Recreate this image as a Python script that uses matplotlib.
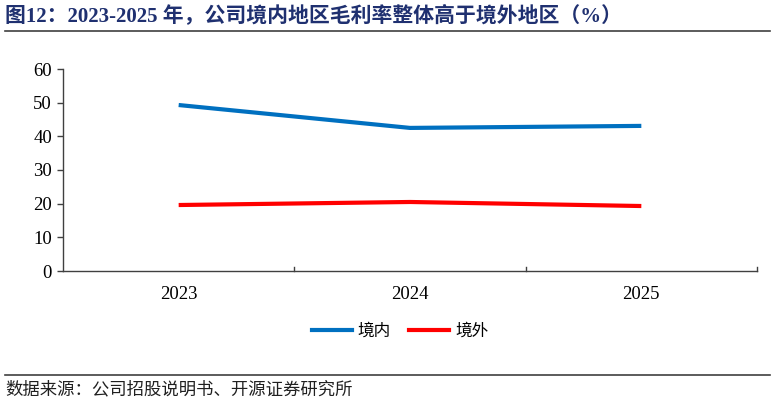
import matplotlib.pyplot as plt
from matplotlib.lines import Line2D

# data
years = ['2023', '2024', '2025']
domestic = [49.3, 42.5, 43.1]   # 境内
overseas = [19.6, 20.5, 19.3]   # 境外

title_text = '图12：2023-2025 年，公司境内地区毛利率整体高于境外地区（%）'
source_text = '数据来源：公司招股说明书、开源证券研究所'

serif_cjk = ['Liberation Serif', 'Noto Sans CJK SC']

fig = plt.figure(figsize=(7.74, 4.05), dpi=100)
ax = fig.add_axes([63 / 774, 1 - 271 / 405, (757 - 63) / 774, (271 - 69) / 405])

xs = list(range(len(years)))
ax.plot(xs, domestic, color='#0070C0', lw=3, label='境内', solid_capstyle='butt')
ax.plot(xs, overseas, color='#FF0000', lw=3, label='境外', solid_capstyle='butt')

ax.set_xlim(-0.5, len(years) - 0.5)
ax.set_ylim(0, 60)
ax.set_yticks(range(0, 61, 10))
ax.set_yticklabels([str(v) for v in range(0, 61, 10)], fontfamily='Liberation Serif', fontsize=13.5)
ax.set_xticks(xs)
ax.set_xticklabels(years, fontfamily='Liberation Serif', fontsize=13.5)
ax.tick_params(axis='x', length=0, pad=11)
ax.tick_params(axis='y', length=4, width=1, color='#404040', pad=4)

# boundary ticks on the category axis, pointing up
for b in [0.5, 1.5, 2.5]:
    ax.plot([b, b], [0, 1.2], color='#404040', lw=1, clip_on=False)

for s in ['top', 'right']:
    ax.spines[s].set_visible(False)
for s in ['left', 'bottom']:
    ax.spines[s].set_color('#404040')
    ax.spines[s].set_linewidth(1)

handles = [Line2D([0], [0], color='#0070C0', lw=3), Line2D([0], [0], color='#FF0000', lw=3)]
fig.legend(handles, ['境内', '境外'], loc='center', bbox_to_anchor=(400 / 774, 1 - 331 / 405),
           ncol=2, frameon=False, prop={'family': 'Noto Sans CJK SC', 'size': 12},
           handlelength=2.4, columnspacing=1.1, handletextpad=0.35)

fig.text(5 / 774, 1 - 16 / 405, title_text, fontsize=15, fontweight='bold', color='#1F3070',
         family=serif_cjk, va='center', ha='left')
fig.add_artist(Line2D([5 / 774, 770 / 774], [1 - 31 / 405, 1 - 31 / 405], color='#404040', lw=1.2))
fig.add_artist(Line2D([5 / 774, 770 / 774], [1 - 375 / 405, 1 - 375 / 405], color='#404040', lw=1.2))
fig.text(5 / 774, 1 - 389 / 405, source_text, fontsize=12.5, color='#202020',
         family='Noto Sans CJK SC', va='center', ha='left')

fig.savefig('out.png', dpi=100)
